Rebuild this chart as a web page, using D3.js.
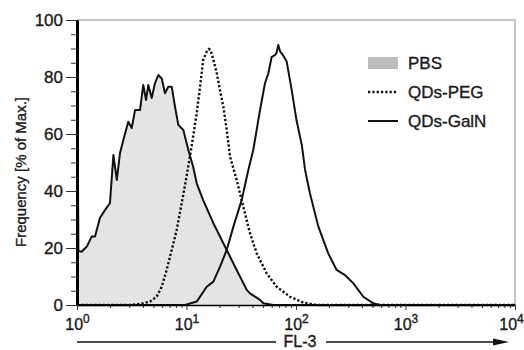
<!DOCTYPE html>
<html>
<head>
<meta charset="utf-8">
<script src="https://cdn.jsdelivr.net/npm/d3@7"></script>
<style>
    body { margin: 0; background: #fff; }
    svg text { font-family: "Liberation Sans", Arial, sans-serif; fill: #1a1a1a; stroke: #1a1a1a; stroke-width: 0.35px; }
</style>
</head>
<body>
<svg id="chart" width="524" height="350"></svg>
<script>
// values (FL-3 channel, % of max)
const pbsFL    = [1, 1.03, 1.10, 1.23, 1.36, 1.46, 1.62, 1.80, 2.00, 2.15, 2.31, 2.47, 2.65, 2.94, 3.16, 3.39, 3.76, 4.03, 4.27, 4.48, 4.81, 5.15, 5.53, 5.94, 6.36, 6.82, 7.33, 7.85, 8.42, 9.35, 10.4, 11.5, 12.4, 14.2, 17.6, 23.3, 28.7, 35.5, 38.0, 46.9, 50.3, 62.1, 10000];
const pbsFreq  = [100, 19, 18.7, 20.5, 24.0, 24.0, 30.5, 33.3, 35.8, 52.6, 43.9, 53.3, 57.9, 64.3, 62.1, 68.4, 68.4, 77.2, 71.9, 77.2, 72.6, 77.8, 80.7, 79.5, 74.3, 76.6, 76.6, 69.6, 63.2, 61.4, 54.4, 48.5, 42.7, 36.8, 28.7, 19.3, 12.3, 5.3, 4.1, 1.8, 0.6, 0, 0];

const pegFL    = [1, 3.05, 3.76, 4.64, 5.34, 5.94, 6.59, 7.33, 8.13, 9.04, 10.0, 10.8, 11.5, 12.4, 13.3, 14.2, 15.3, 16.0, 16.6, 17.6, 18.9, 20.2, 21.7, 23.3, 25.0, 28.7, 33.0, 38.0, 43.8, 54.0, 66.6, 88.2, 117, 155, 10000];
const pegFreq  = [0, 0, 0.35, 1.2, 2.9, 6.4, 12.3, 19.3, 26.3, 35.7, 45.0, 52.6, 59.1, 67.3, 76.6, 86.0, 88.9, 89.8, 89.5, 86.0, 81.3, 75.4, 69.6, 61.4, 52.0, 43.9, 34.5, 25.2, 18.1, 11.1, 6.4, 2.9, 0.8, 0, 0];

const galnFL   = [1, 9.69, 12.4, 15.3, 17.6, 20.2, 23.3, 26.8, 31.9, 36.7, 40.7, 42.2, 46.9, 52.1, 55.9, 60.0, 64.3, 66.5, 68.9, 71.5, 74.0, 77.6, 82.2, 91.4, 101, 113, 121, 134, 160, 197, 235, 280, 334, 412, 508, 585, 10000];
const galnFreq = [0, 0, 1.2, 6.4, 8.2, 13.4, 19.3, 27.5, 36.8, 47.4, 54.4, 57.9, 68.4, 77.8, 81.3, 87.1, 87.7, 88.5, 91.2, 89, 88.3, 87.1, 85.4, 75.4, 64.9, 56.1, 47.4, 39.2, 27.5, 18.1, 12.3, 10.5, 7.6, 2.9, 0.6, 0, 0];

const xTicks       = [1, 10, 100, 1000, 10000];
const xExponents   = ['0', '1', '2', '3', '4'];
const yTicks       = [0, 20, 40, 60, 80, 100];
const legendLabels = ['PBS', 'QDs-PEG', 'QDs-GalN'];

const zip = (xs, ys) => xs.map((v, i) => [v, ys[i]]);

const svg    = d3.select('#chart');
const margin = {top: 20, right: 9, bottom: 45, left: 77};
const width  = 524 - margin.left - margin.right;
const height = 350 - margin.top - margin.bottom;

const x = d3.scaleLog().domain([1, 10000]).range([margin.left, margin.left + width]);
const y = d3.scaleLinear().domain([0, 100]).range([margin.top + height, margin.top]);

const line = d3.line().x(d => x(d[0])).y(d => y(d[1]));
const area = d3.area().x(d => x(d[0])).y0(y(0)).y1(d => y(d[1]));

// frame (top / right)
svg.append('path')
    .attr('d', `M${x(1)},${y(100)}H${x(10000)}V${y(0)}`)
    .attr('fill', 'none').attr('stroke', '#b4b4b4').attr('stroke-width', 1.6);

// PBS filled
svg.append('path').datum(zip(pbsFL, pbsFreq))
    .attr('d', area).attr('fill', '#e4e4e4');
svg.append('path').datum(zip(pbsFL, pbsFreq))
    .attr('d', line).attr('fill', 'none').attr('stroke', '#111').attr('stroke-width', 2).attr('stroke-linejoin', 'round');

// QDs-PEG dotted
svg.append('path').datum(zip(pegFL, pegFreq))
    .attr('d', line).attr('fill', 'none').attr('stroke', '#111').attr('stroke-width', 2.4)
    .attr('stroke-dasharray', '2.3,2');

// QDs-GalN solid
svg.append('path').datum(zip(galnFL, galnFreq))
    .attr('d', line).attr('fill', 'none').attr('stroke', '#111').attr('stroke-width', 2).attr('stroke-linejoin', 'round');

// y axis: minor then major
svg.append('g')
    .attr('transform', `translate(${margin.left},0)`)
    .call(d3.axisLeft(y).tickValues(d3.range(0, 101, 5)).tickSize(6).tickSizeOuter(0).tickFormat(''))
    .call(g => g.selectAll('line').attr('stroke', '#333'))
    .call(g => g.select('.domain').remove());

svg.append('g')
    .attr('transform', `translate(${margin.left},0)`)
    .call(d3.axisLeft(y).tickValues(yTicks).tickSize(11).tickPadding(3).tickSizeOuter(0))
    .call(g => g.selectAll('line').attr('stroke', '#333'))
    .call(g => g.select('.domain').attr('stroke', '#000').attr('stroke-width', 3))
    .call(g => g.selectAll('text').attr('font-size', 17).attr('fill', '#1a1a1a')
        .style('font-family', '"Liberation Sans", Arial, sans-serif'));

// x axis: minor log ticks then decades
const minor = [];
xTicks.slice(0, -1).forEach(d => d3.range(2, 10).forEach(k => minor.push(d * k)));

svg.append('g')
    .attr('transform', `translate(0,${margin.top + height})`)
    .call(d3.axisBottom(x).tickValues(minor).tickSize(3).tickFormat(''))
    .call(g => g.selectAll('line').attr('stroke', '#333'))
    .call(g => g.select('.domain').remove());

const xAxis = svg.append('g')
    .attr('transform', `translate(0,${margin.top + height})`)
    .call(d3.axisBottom(x).tickValues(xTicks).tickSize(5).tickSizeOuter(0));

xAxis.select('.domain').attr('stroke', '#000').attr('stroke-width', 1.6);
xAxis.selectAll('line').attr('stroke', '#333');
xAxis.selectAll('.tick text')
    .text(null).attr('dy', null).attr('y', 25).attr('fill', '#1a1a1a')
    .attr('x', (d, i) => i === xTicks.length - 1 ? -4 : 0)
    .style('font-family', '"Liberation Sans", Arial, sans-serif')
    .each(function (d, i) {
        const t = d3.select(this);
        t.append('tspan').attr('font-size', 16).text('10');
        t.append('tspan').attr('font-size', 12).attr('dy', -7).text(xExponents[i]);
    });

// axis titles
svg.append('text')
    .attr('transform', 'translate(26,172) rotate(-90)')
    .attr('text-anchor', 'middle').attr('font-size', 15)
    .text('Frequency [% of Max.]');

const arrowY = 342;
svg.append('line').attr('x1', 77).attr('x2', 276).attr('y1', arrowY).attr('y2', arrowY)
    .attr('stroke', '#111').attr('stroke-width', 1.6);
svg.append('line').attr('x1', 326).attr('x2', 500).attr('y1', arrowY).attr('y2', arrowY)
    .attr('stroke', '#111').attr('stroke-width', 1.6);
svg.append('path').attr('d', `M493,${arrowY - 3.5}L509,${arrowY}L493,${arrowY + 3.5}Z`).attr('fill', '#111');
svg.append('text')
    .attr('x', 300).attr('y', 347).attr('text-anchor', 'middle').attr('font-size', 16)
    .text('FL-3');

// legend
const legend = svg.append('g').attr('transform', 'translate(368,63)');
legendLabels.forEach((label, i) => {
    const row = legend.append('g').attr('transform', `translate(0,${i * 29})`);
    if (i === 0) {
        row.append('rect').attr('x', 0).attr('y', -6).attr('width', 30).attr('height', 12).attr('fill', '#bdbdbd');
    } else {
        row.append('line').attr('x1', 0).attr('x2', 30).attr('y1', 0).attr('y2', 0)
            .attr('stroke', '#111').attr('stroke-width', i === 1 ? 2.4 : 2)
            .attr('stroke-dasharray', i === 1 ? '2.3,2' : null);
    }
    row.append('text').attr('x', 40).attr('y', 6).attr('font-size', 17).text(label);
});
</script>
</body>
</html>
